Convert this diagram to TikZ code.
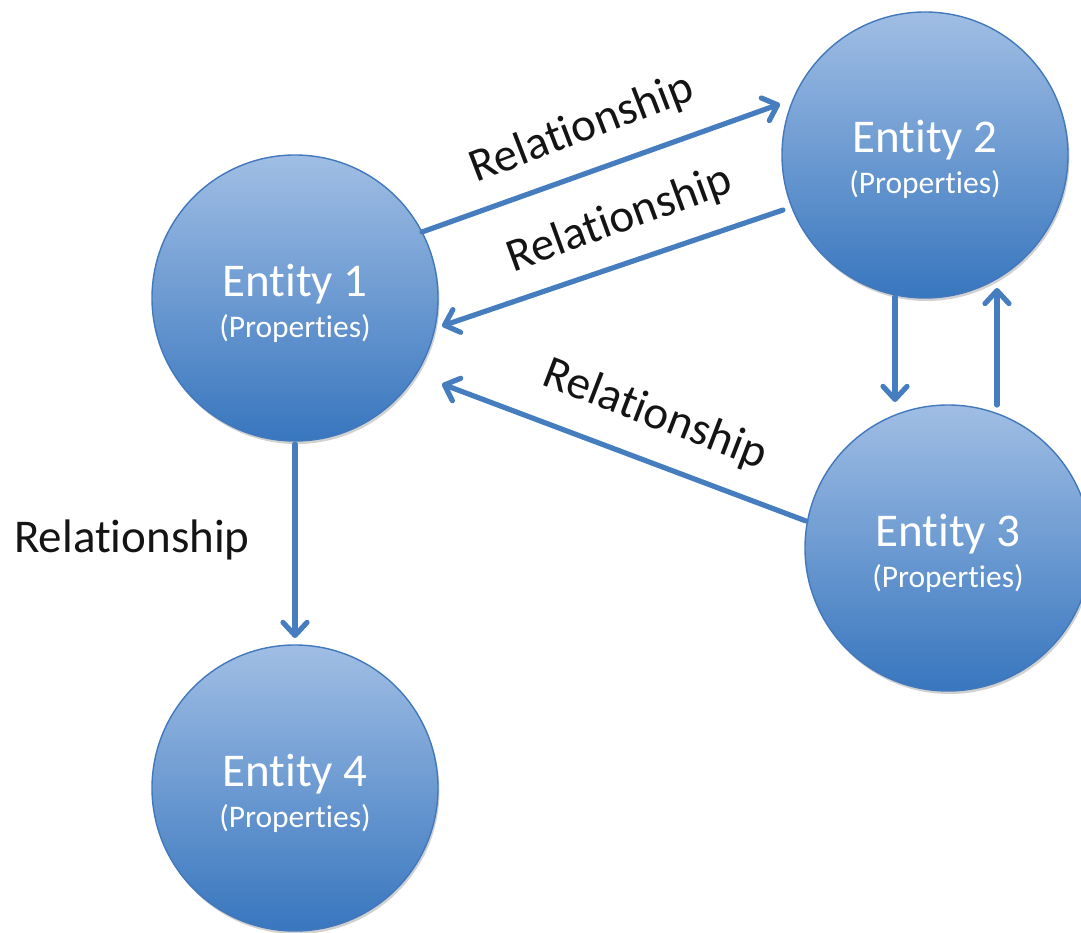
\documentclass[tikz,border=0pt]{standalone}
\usepackage{fontspec}
\setmainfont{Carlito}[Ligatures={NoCommon}]
\usetikzlibrary{arrows.meta,shadows}
\definecolor{linblue}{RGB}{70,125,190}
\definecolor{topblue}{RGB}{160,190,228}
\definecolor{botblue}{RGB}{56,118,190}
\definecolor{rimblue}{RGB}{66,120,188}
\definecolor{labelgray}{RGB}{20,20,20}
\begin{document}
\begin{tikzpicture}[x=1pt,y=-1pt,
  entity/.style={circle, minimum size=286pt, inner sep=0pt, draw=rimblue, line width=1.4pt,
    top color=topblue, bottom color=botblue,
    drop shadow={shadow xshift=1.5pt, shadow yshift=-3pt, opacity=0.18, fill=black}},
  etitle/.style={anchor=base, inner sep=0pt, text=white, font=\fontsize{47}{50}\selectfont},
  eprops/.style={anchor=base, inner sep=0pt, text=white, font=\fontsize{31.5}{34}\selectfont},
  rel/.style={inner sep=0pt, text=labelgray, font=\fontsize{47}{50}\selectfont},
  conn/.style={draw=linblue, line width=5.2pt, line cap=round,
    -{Straight Barb[length=13pt, width=24pt, line cap=round, line join=round]}}
]
\useasboundingbox (0,0) rectangle (1081,933);
\clip (0,0) rectangle (1081,933);

% entities
\node[entity] (e1) at (295,298) {};
\node[etitle] (e1a) at (295,296) {Entity 1};
\node[eprops] (e1b) at (295,337) {(Properties)};

\node[entity] (e2) at (925,155) {};
\node[etitle] (e2a) at (925,153) {Entity 2};
\node[eprops] (e2b) at (925,194) {(Properties)};

\node[entity] (e3) at (948,548) {};
\node[etitle] (e3a) at (948,546) {Entity 3};
\node[eprops] (e3b) at (948,587) {(Properties)};

\node[entity] (e4) at (295,788) {};
\node[etitle] (e4a) at (295,786) {Entity 4};
\node[eprops] (e4b) at (295,827) {(Properties)};

% connector end points
\coordinate (a1s) at (422,232);
\coordinate (a1e) at (780,104);
\coordinate (a2s) at (783,210);
\coordinate (a2e) at (442,326);
\coordinate (a3s) at (806,521);
\coordinate (a3e) at (442,384);
\coordinate (a4s) at (295,444);
\coordinate (a4e) at (295,638);
\coordinate (a5s) at (895,297);
\coordinate (a5e) at (895,402);
\coordinate (a6s) at (997,405);
\coordinate (a6e) at (997,288);

\draw[conn] (a1s) -- (a1e);
\draw[conn] (a2s) -- (a2e);
\draw[conn] (a3s) -- (a3e);
\draw[conn] (a4s) -- (a4e);
\draw[conn] (a5s) -- (a5e);
\draw[conn] (a6s) -- (a6e);

% labels
\node[rel, rotate=21] (r1) at (582,129) {Relationship};
\node[rel, rotate=20] (r2) at (620,220) {Relationship};
\node[rel, rotate=-21] (r3) at (655,415) {Relationship};
\node[rel, anchor=base] (r4) at (132,552) {Relationship};
\end{tikzpicture}
\end{document}
